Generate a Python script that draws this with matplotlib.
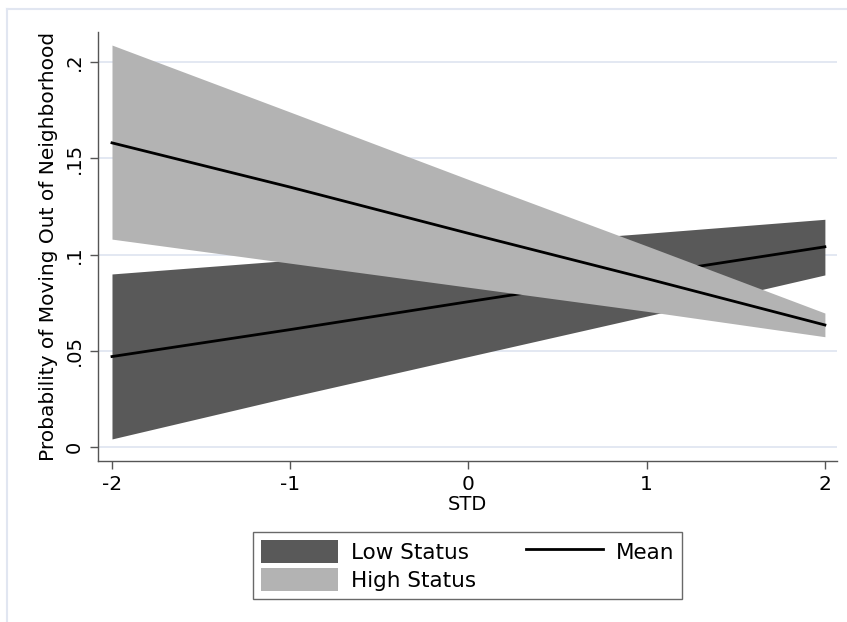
import matplotlib.pyplot as plt
from matplotlib.lines import Line2D
from matplotlib.patches import Patch

# predicted probabilities by STD, with 95% bounds
std_values = [-2, -1, 0, 1, 2]

low_mean = [0.047, 0.061, 0.0755, 0.0897, 0.104]
low_lower = [0.0042, 0.026, 0.047, 0.068, 0.0894]
low_upper = [0.0899, 0.097, 0.104, 0.111, 0.1183]

high_mean = [0.158, 0.135, 0.111, 0.0875, 0.0634]
high_lower = [0.108, 0.0955, 0.083, 0.0705, 0.0573]
high_upper = [0.2088, 0.174, 0.139, 0.1045, 0.0696]

y_ticks = [0, 0.05, 0.1, 0.15, 0.2]
y_tick_labels = ['0', '.05', '.1', '.15', '.2']

low_color = '#595959'
high_color = '#b3b3b3'
grid_color = '#e1e6f1'
axis_color = '#555555'

fig = plt.figure(figsize=(8.47, 6.22), dpi=100)
ax = fig.add_axes([0.1157, 0.2588, 0.8723, 0.6898])

for y in y_ticks:
    ax.axhline(y, color=grid_color, lw=1.3, zorder=0)

# low status band and line first, high status drawn over them
ax.fill_between(std_values, low_lower, low_upper, color=low_color, lw=0, zorder=2)
ax.plot(std_values, low_mean, color='black', lw=2, zorder=3)
ax.fill_between(std_values, high_lower, high_upper, color=high_color, lw=0, zorder=4)
ax.plot(std_values, high_mean, color='black', lw=2, zorder=5)

ax.set_xlim(-2.0785, 2.067)
ax.set_ylim(-0.00727, 0.2156)

ax.set_xticks(std_values)
ax.set_xticklabels(['-2', '-1', '0', '1', '2'])
ax.set_yticks(y_ticks)
ax.set_yticklabels(y_tick_labels, rotation=90, va='center')

ax.tick_params(axis='both', colors='black', length=6, width=1, direction='out')
ax.tick_params(axis='both', color=axis_color)
ax.tick_params(axis='x', labelsize=14.5, pad=4)
ax.tick_params(axis='y', labelsize=14, pad=4)

for side in ['top', 'right']:
    ax.spines[side].set_visible(False)
for side in ['left', 'bottom']:
    ax.spines[side].set_color(axis_color)
    ax.spines[side].set_linewidth(1.0)

ax.set_xlabel('STD', fontsize=14, labelpad=1)
ax.set_ylabel('Probability of Moving Out of Neighborhood', fontsize=14.5, labelpad=5)

handles = [
    Patch(facecolor=low_color, edgecolor='none', label='Low Status'),
    Patch(facecolor=high_color, edgecolor='none', label='High Status'),
    Line2D([0], [0], color='black', lw=2, label='Mean'),
]
leg = fig.legend(handles=handles, ncol=2, loc='center',
                 bbox_to_anchor=(467.5 / 847, 1 - 565.5 / 622),
                 fontsize=15.5, frameon=True, fancybox=False,
                 handlelength=3.6, handleheight=1.3, handletextpad=0.6,
                 columnspacing=2.3, labelspacing=0.2, borderpad=0.35)
leg.get_frame().set_edgecolor('#444444')
leg.get_frame().set_linewidth(1.0)

# light outer frame of the graph region
fig.add_artist(Line2D([7 / 847, 1], [1 - 9 / 622, 1 - 9 / 622],
                      transform=fig.transFigure, color=grid_color, lw=1.5))
fig.add_artist(Line2D([7 / 847, 7 / 847], [0, 1 - 9 / 622],
                      transform=fig.transFigure, color=grid_color, lw=1.5))

fig.savefig('out.png', dpi=100)
